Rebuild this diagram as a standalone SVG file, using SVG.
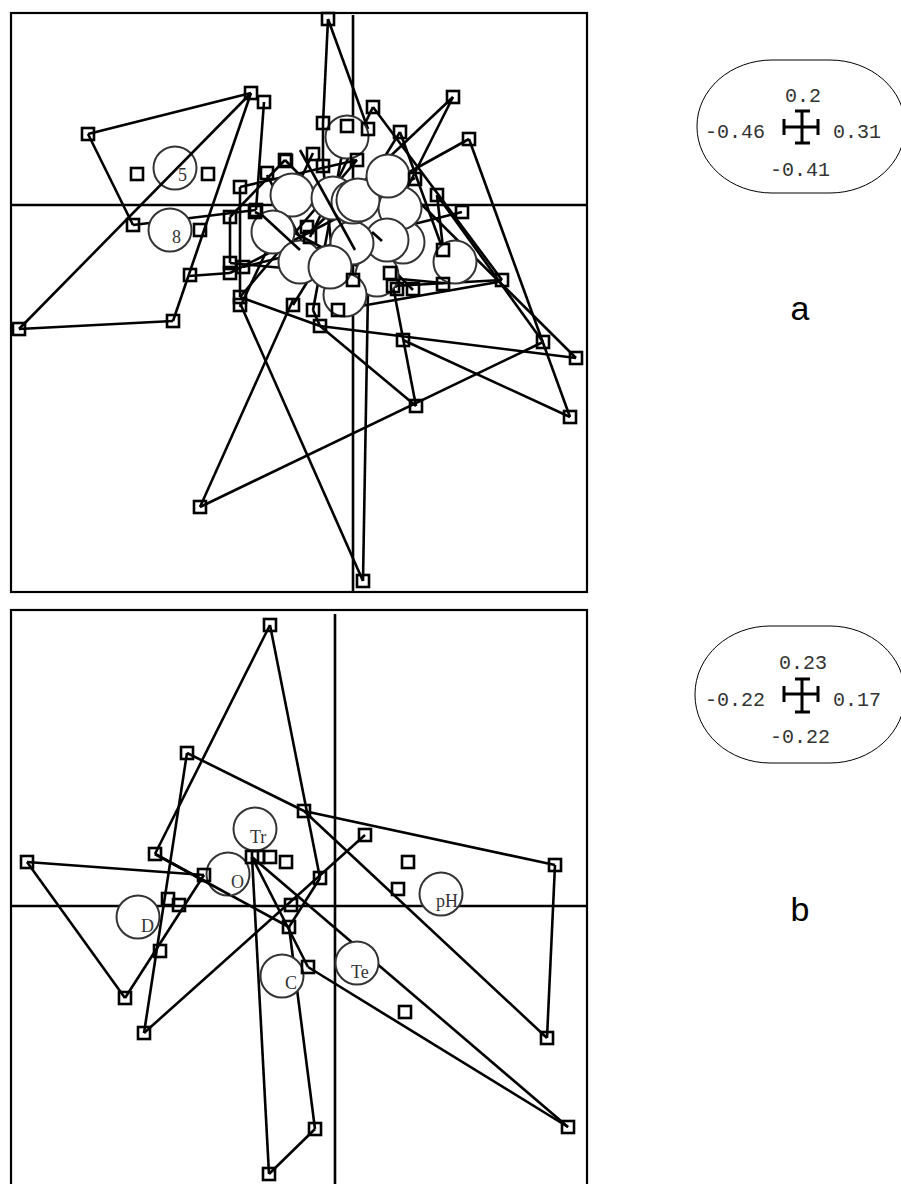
<svg xmlns="http://www.w3.org/2000/svg" width="901" height="1184" viewBox="0 0 901 1184">
<style>
.frame{fill:none;stroke:#000;stroke-width:2.2}
.axis{stroke:#000;stroke-width:2.6}
.ln{stroke:#000;stroke-width:2.6;fill:none}
.sq{fill:none;stroke:#000;stroke-width:2.6}
.ci{fill:#fff;stroke:#333;stroke-width:2}
.lab{font-family:"Liberation Serif",serif;font-size:18px;fill:#333}
.leg{font-family:"Liberation Mono",monospace;font-size:20px;fill:#333}
.legbox{fill:#fff;stroke:#000;stroke-width:1}
.cross{stroke:#000;stroke-width:3;fill:none}
.big{font-family:"Liberation Sans",sans-serif;font-size:34px;fill:#000}
</style>
<defs>
<rect id="s" x="-6" y="-6" width="12" height="12" class="sq"/>
<circle id="c" r="21.5" class="ci"/>
</defs>
<rect width="901" height="1184" fill="#fff"/>

<!-- Panel a -->
<g id="panel-a">
<rect class="frame" x="11" y="13" width="576" height="579"/>
<line class="axis" x1="11" y1="205" x2="587" y2="205"/>
<line class="axis" x1="353" y1="15" x2="353" y2="592"/>
</g>
<g id="connectors-a" class="ln">
<line x1="88" y1="134" x2="251" y2="93"/>
<line x1="88" y1="134" x2="133" y2="225"/>
<line x1="133" y1="225" x2="256" y2="210"/>
<line x1="19" y1="329" x2="173" y2="321"/>
<line x1="251" y1="93" x2="173" y2="321"/>
<line x1="189" y1="276" x2="230" y2="273"/>
<line x1="264" y1="102" x2="256" y2="210"/>
<line x1="328" y1="19" x2="323" y2="123"/>
<line x1="328" y1="19" x2="368" y2="129"/>
<line x1="453" y1="97" x2="310" y2="232"/>
<line x1="453" y1="97" x2="385" y2="232"/>
<line x1="373" y1="107" x2="502" y2="280"/>
<line x1="469" y1="139" x2="395" y2="180"/>
<line x1="469" y1="139" x2="570" y2="417"/>
<line x1="403" y1="340" x2="570" y2="417"/>
<line x1="393" y1="286" x2="416" y2="406"/>
<line x1="320" y1="326" x2="416" y2="406"/>
<line x1="200" y1="507" x2="543" y2="342"/>
<line x1="320" y1="326" x2="576" y2="358"/>
<line x1="576" y1="358" x2="400" y2="183"/>
<line x1="543" y1="342" x2="437" y2="195"/>
<line x1="502" y1="280" x2="393" y2="286"/>
<line x1="240" y1="303" x2="363" y2="581"/>
<line x1="363" y1="581" x2="368" y2="290"/>
<line x1="200" y1="507" x2="293" y2="300"/>
<line x1="437" y1="195" x2="443" y2="248"/>
<line x1="285" y1="160" x2="230" y2="217"/>
<line x1="230" y1="217" x2="230" y2="263"/>
<line x1="240" y1="187" x2="357" y2="160"/>
<line x1="267" y1="175" x2="338" y2="310"/>
<line x1="230" y1="263" x2="443" y2="283"/>
<line x1="240" y1="297" x2="357" y2="160"/>
<line x1="240" y1="307" x2="313" y2="153"/>
<line x1="243" y1="267" x2="462" y2="212"/>
<line x1="230" y1="273" x2="415" y2="178"/>
<line x1="293" y1="305" x2="400" y2="132"/>
<line x1="313" y1="310" x2="347" y2="127"/>
<line x1="338" y1="310" x2="323" y2="165"/>
<line x1="338" y1="310" x2="498" y2="282"/>
<line x1="400" y1="132" x2="443" y2="250"/>
<line x1="373" y1="107" x2="310" y2="237"/>
<line x1="285" y1="160" x2="413" y2="290"/>
<line x1="255" y1="212" x2="397" y2="287"/>
<line x1="323" y1="123" x2="323" y2="166"/>
<line x1="240" y1="187" x2="240" y2="297"/>
<line x1="313" y1="310" x2="320" y2="326"/>
<line x1="240" y1="297" x2="320" y2="326"/>
</g>
<g id="circles-a">
<use href="#c" x="175" y="168"/>
<use href="#c" x="170" y="230"/>
<use href="#c" x="347" y="137"/>
<use href="#c" x="292" y="195"/>
<use href="#c" x="273" y="232"/>
<use href="#c" x="455" y="262"/>
<use href="#c" x="377" y="275"/>
<use href="#c" x="345" y="295"/>
<use href="#c" x="300" y="262"/>
<use href="#c" x="403" y="242"/>
<use href="#c" x="400" y="208"/>
<use href="#c" x="387" y="240"/>
<use href="#c" x="352" y="243"/>
<use href="#c" x="333" y="198"/>
<use href="#c" x="353" y="202"/>
<use href="#c" x="358" y="200"/>
<use href="#c" x="388" y="176"/>
<use href="#c" x="330" y="267"/>
<text class="lab" x="178" y="181">5</text>
<text class="lab" x="172" y="243">8</text>
</g>
<g id="connectors-a-top" class="ln">
<line x1="251" y1="93" x2="19" y2="329"/>
<line x1="300" y1="150" x2="355" y2="250"/>
<line x1="372" y1="232" x2="382" y2="241"/>
<line x1="262" y1="215" x2="300" y2="250"/>
</g>
<g id="squares-a">
<use href="#s" x="328" y="19"/><use href="#s" x="453" y="97"/><use href="#s" x="373" y="107"/>
<use href="#s" x="469" y="139"/><use href="#s" x="323" y="123"/><use href="#s" x="347" y="126"/>
<use href="#s" x="368" y="129"/><use href="#s" x="400" y="132"/><use href="#s" x="286" y="161"/>
<use href="#s" x="313" y="154"/><use href="#s" x="323" y="166"/><use href="#s" x="415" y="179"/>
<use href="#s" x="437" y="195"/><use href="#s" x="462" y="212"/><use href="#s" x="443" y="250"/>
<use href="#s" x="502" y="280"/><use href="#s" x="443" y="284"/><use href="#s" x="413" y="289"/>
<use href="#s" x="393" y="286"/><use href="#s" x="397" y="289"/><use href="#s" x="543" y="342"/>
<use href="#s" x="576" y="358"/><use href="#s" x="403" y="340"/><use href="#s" x="320" y="326"/>
<use href="#s" x="293" y="305"/><use href="#s" x="313" y="310"/><use href="#s" x="338" y="310"/>
<use href="#s" x="416" y="406"/><use href="#s" x="570" y="417"/><use href="#s" x="363" y="581"/>
<use href="#s" x="88" y="134"/><use href="#s" x="251" y="93"/><use href="#s" x="264" y="102"/>
<use href="#s" x="137" y="174"/><use href="#s" x="208" y="174"/><use href="#s" x="133" y="225"/>
<use href="#s" x="200" y="230"/><use href="#s" x="267" y="173"/><use href="#s" x="240" y="187"/>
<use href="#s" x="230" y="217"/><use href="#s" x="256" y="210"/><use href="#s" x="190" y="275"/>
<use href="#s" x="230" y="263"/><use href="#s" x="230" y="273"/><use href="#s" x="243" y="267"/>
<use href="#s" x="240" y="297"/><use href="#s" x="240" y="305"/><use href="#s" x="19" y="329"/>
<use href="#s" x="173" y="321"/><use href="#s" x="200" y="507"/><use href="#s" x="357" y="160"/>
<use href="#s" x="307" y="227"/><use href="#s" x="310" y="237"/><use href="#s" x="353" y="280"/>
<use href="#s" x="390" y="273"/><use href="#s" x="285" y="160"/><use href="#s" x="255" y="212"/>
</g>

<!-- Legend a -->
<g id="legend-a">
<rect class="legbox" x="697" y="60" width="208" height="133" rx="75" ry="66"/>
<text class="leg" x="803" y="102" text-anchor="middle">0.2</text>
<text class="leg" x="765" y="138" text-anchor="end">-0.46</text>
<text class="leg" x="833" y="138">0.31</text>
<text class="leg" x="800" y="176" text-anchor="middle">-0.41</text>
<path class="cross" d="M802 111V143M795 111H810M795 143H810M784 127H818M784 119V135M818 119V135"/>
</g>
<text id="label-a" class="big" x="800" y="320" text-anchor="middle">a</text>

<!-- Panel b -->
<g id="panel-b">
<rect class="frame" x="11" y="610" width="576" height="580"/>
<line class="axis" x1="11" y1="906" x2="587" y2="906"/>
<line class="axis" x1="335" y1="614" x2="335" y2="1184"/>
</g>
<g id="connectors-b" class="ln">
<line x1="270" y1="625" x2="155" y2="854"/>
<line x1="270" y1="625" x2="320" y2="878"/>
<line x1="187" y1="753" x2="304" y2="811"/>
<line x1="187" y1="753" x2="144" y2="1033"/>
<line x1="155" y1="854" x2="289" y2="927"/>
<line x1="27" y1="862" x2="204" y2="875"/>
<line x1="27" y1="862" x2="125" y2="998"/>
<line x1="125" y1="998" x2="204" y2="875"/>
<line x1="144" y1="1033" x2="365" y2="835"/>
<line x1="252" y1="857" x2="269" y2="1174"/>
<line x1="269" y1="1174" x2="315" y2="1129"/>
<line x1="315" y1="1129" x2="289" y2="927"/>
<line x1="252" y1="857" x2="308" y2="967"/>
<line x1="308" y1="967" x2="568" y2="1127"/>
<line x1="252" y1="857" x2="568" y2="1127"/>
<line x1="304" y1="811" x2="555" y2="865"/>
<line x1="555" y1="865" x2="547" y2="1038"/>
<line x1="547" y1="1038" x2="304" y2="811"/>
<line x1="320" y1="878" x2="289" y2="927"/>
</g>
<g id="circles-b">
<g id="node-Tr"><use href="#c" x="255" y="829"/><text class="lab" x="250" y="843">Tr</text></g>
<g id="node-O"><use href="#c" x="228" y="874"/><text class="lab" x="231" y="888">O</text></g>
<g id="node-D"><use href="#c" x="138" y="917"/><text class="lab" x="141" y="932">D</text></g>
<g id="node-C"><use href="#c" x="282" y="976"/><text class="lab" x="285" y="989">C</text></g>
<g id="node-Te"><use href="#c" x="357" y="963"/><text class="lab" x="351" y="978">Te</text></g>
<g id="node-pH"><use href="#c" x="441" y="894"/><text class="lab" x="436" y="907">pH</text></g>
</g>
<g id="connectors-b-top" class="ln">
<line x1="155" y1="854" x2="230" y2="895"/>
</g>
<g id="squares-b">
<use href="#s" x="270" y="625"/><use href="#s" x="187" y="753"/><use href="#s" x="304" y="811"/>
<use href="#s" x="365" y="835"/><use href="#s" x="155" y="854"/><use href="#s" x="27" y="862"/>
<use href="#s" x="204" y="875"/><use href="#s" x="252" y="857"/><use href="#s" x="258" y="857"/>
<use href="#s" x="270" y="857"/><use href="#s" x="286" y="862"/><use href="#s" x="408" y="862"/>
<use href="#s" x="320" y="878"/><use href="#s" x="398" y="889"/><use href="#s" x="555" y="865"/>
<use href="#s" x="168" y="899"/><use href="#s" x="179" y="905"/><use href="#s" x="291" y="905"/>
<use href="#s" x="289" y="927"/><use href="#s" x="160" y="951"/><use href="#s" x="308" y="967"/>
<use href="#s" x="125" y="998"/><use href="#s" x="144" y="1033"/><use href="#s" x="405" y="1012"/>
<use href="#s" x="547" y="1038"/><use href="#s" x="568" y="1127"/><use href="#s" x="315" y="1129"/>
<use href="#s" x="269" y="1174"/>
</g>

<!-- Legend b -->
<g id="legend-b">
<rect class="legbox" x="695" y="626" width="210" height="137" rx="75" ry="68"/>
<text class="leg" x="803" y="669" text-anchor="middle">0.23</text>
<text class="leg" x="765" y="706" text-anchor="end">-0.22</text>
<text class="leg" x="833" y="706">0.17</text>
<text class="leg" x="800" y="743" text-anchor="middle">-0.22</text>
<path class="cross" d="M802 679V712M795 679H810M795 712H810M784 694H818M784 686V702M818 686V702"/>
</g>
<text id="label-b" class="big" x="800" y="921" text-anchor="middle">b</text>
</svg>
